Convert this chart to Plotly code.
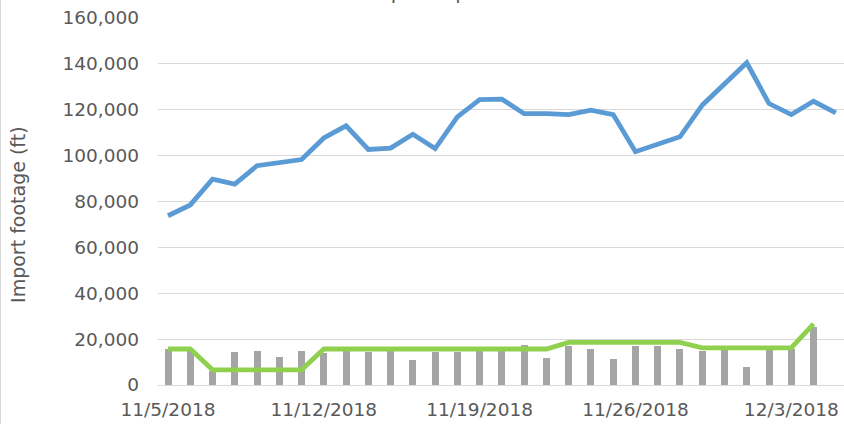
import pandas as pd
import plotly.graph_objects as go

# ---- data ----
line_dates = pd.date_range("2018-11-05", "2018-12-05", freq="D")  # 31 days
bar_dates = pd.date_range("2018-11-05", "2018-12-04", freq="D")   # 30 days

total_footage = [73800, 78500, 89700, 87600, 95600, 96900, 98300, 107700, 113000, 102700,
                 103300, 109300, 103100, 116900, 124400, 124600, 118300, 118300, 117900, 119800,
                 117900, 101700, 105000, 108200, 122000, 131400, 140500, 122700, 117900, 123700,
                 118600]

daily_imports = [15500, 15500, 6000, 14300, 15000, 12000, 14700, 14000, 15300, 14300,
                 15000, 11100, 14300, 14300, 15000, 15000, 17600, 11800, 16900, 15900,
                 11400, 16900, 16900, 15900, 14700, 15500, 7700, 15700, 15500, 25300]

weekly_avg = [15700, 15700, 6600, 6600, 6600, 6600, 6600, 15700, 15700, 15700,
              15700, 15700, 15700, 15700, 15700, 15700, 15700, 15700, 18600, 18600,
              18600, 18600, 18600, 18600, 16200, 16200, 16200, 16500, 16200, 26700]

title_text = "Depot Imports"
y_title = "Import footage (ft)"

# ---- layout geometry ----
W, H = 844, 424
ML, MR, MT, MB = 158, 0, 17.5, 38.5
PW = W - ML - MR
PH = H - MT - MB
px_per_day = 22.26
x_start = pd.Timestamp("2018-11-05") - pd.Timedelta(days=10 / px_per_day)
x_end = x_start + pd.Timedelta(days=PW / px_per_day)

FONT = "Verdana, DejaVu Sans, sans-serif"
TXT = "#595959"

fig = go.Figure()
fig.add_trace(go.Bar(x=bar_dates, y=daily_imports, marker=dict(color="#a5a5a5", line=dict(width=0)),
                     width=7 / px_per_day * 86400000, name="Daily"))
fig.add_trace(go.Scatter(x=bar_dates, y=weekly_avg, mode="lines",
                         line=dict(color="#8fd14f", width=4.8), name="Average"))
fig.add_trace(go.Scatter(x=line_dates, y=total_footage, mode="lines",
                         line=dict(color="#5b9bd5", width=4.8), name="Total"))

fig.update_layout(
    width=W, height=H,
    margin=dict(l=ML, r=MR, t=MT, b=MB, pad=0),
    paper_bgcolor="white", plot_bgcolor="white",
    showlegend=False,
    font=dict(family=FONT, color=TXT, size=18.5),
    bargap=0,
    xaxis=dict(
        type="date",
        range=[x_start, x_end],
        tick0="2018-11-05", dtick=7 * 86400000,
        tickformat="%-m/%-d/%Y",
        showgrid=False, zeroline=False,
        showline=True, linecolor="#d9d9d9", linewidth=1,
        ticks="", ticklabelstandoff=8,
        tickfont=dict(family=FONT, color=TXT, size=18.5),
        automargin=False,
    ),
    yaxis=dict(
        range=[0, 160000],
        tickvals=[0, 20000, 40000, 60000, 80000, 100000, 120000, 140000, 160000],
        tickformat=",d",
        showgrid=True, gridcolor="#d9d9d9", gridwidth=1,
        zeroline=False, showline=False,
        ticks="", ticklabelstandoff=18,
        tickfont=dict(family=FONT, color=TXT, size=18.5),
        automargin=False,
    ),
    annotations=[
        dict(text=y_title, textangle=-90, xref="paper", yref="paper",
             x=-(ML - 18) / PW, y=(385.5 - 215) / PH, xanchor="center", yanchor="middle",
             showarrow=False, font=dict(family=FONT, color=TXT, size=19)),
        dict(text=title_text, xref="paper", yref="paper",
             x=(435 - ML) / PW, y=1, xanchor="center", yanchor="bottom", yshift=12,
             showarrow=False, font=dict(family=FONT, color=TXT, size=20)),
    ],
    shapes=[
        dict(type="line", xref="paper", yref="paper",
             x0=-(ML - 0.5) / PW, x1=-(ML - 0.5) / PW, y0=-0.2, y1=1.2,
             line=dict(color="#d9d9d9", width=1)),
    ],
)

fig.write_html("out.html", config={"displayModeBar": False},
               post_script="document.body.style.margin='0';document.body.style.overflow='hidden';")
